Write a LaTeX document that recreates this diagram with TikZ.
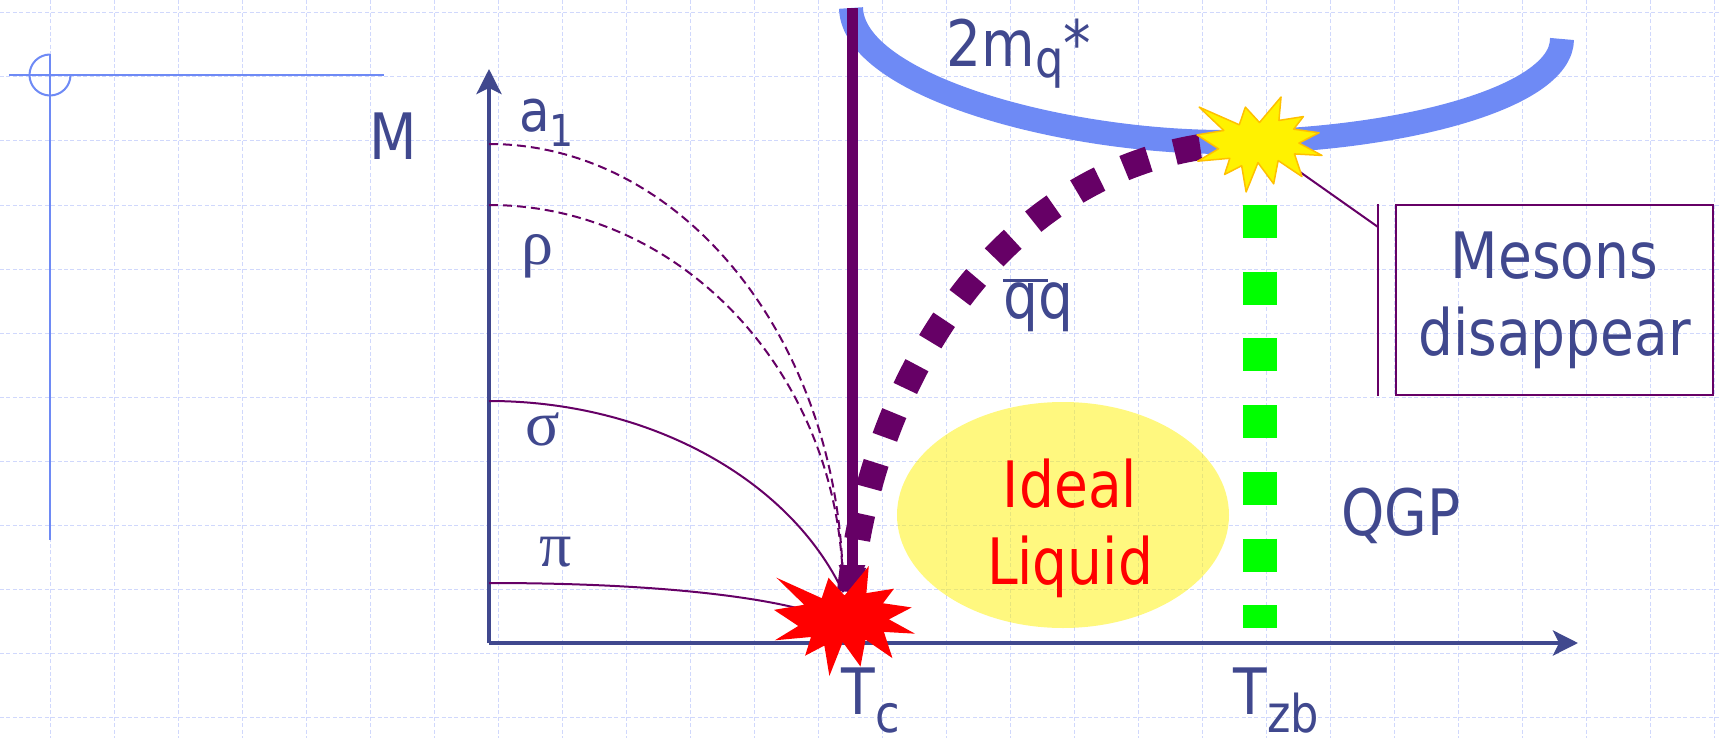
\documentclass[tikz,border=0pt]{standalone}
\usepackage{fontspec}
\setmainfont{DejaVu Sans}[FakeStretch=0.86]
\newfontfamily\greekfont{Liberation Serif}
\usepackage{tikz}
\usetikzlibrary{arrows.meta}
\definecolor{inkblue}{RGB}{64,72,142}
\definecolor{plum}{RGB}{102,0,102}
\definecolor{bandblue}{RGB}{110,138,245}
\definecolor{gridblue}{RGB}{208,216,252}
\definecolor{sealgold}{RGB}{255,192,0}
\definecolor{dotgreen}{RGB}{0,255,0}
\newcommand{\subtxt}[2]{\raisebox{-#1}{\fontsize{26pt}{26pt}\selectfont #2}}
\tikzset{
  lbl/.style={text=inkblue, inner sep=0pt, font=\fontsize{32pt}{38.5pt}\selectfont},
  greek/.style={lbl, font=\greekfont\fontsize{32pt}{38.5pt}\selectfont},
  gridline/.style={gridblue, line width=0.5pt, dash pattern=on 2pt off 1.2pt},
  guide/.style={bandblue, line width=1pt},
  axis/.style={inkblue, line width=2pt, -{Stealth[length=12.5pt, width=12.5pt, inset=3pt]}},
  meson/.style={plum, line width=1pt},
  mesondash/.style={meson, dash pattern=on 4.5pt off 2.5pt},
  seal/.pic={
    \path[pic actions] (50,26.85) -- (67.23,0) -- (65.53,24.65) -- (85.09,20.63)
      -- (77.32,33.87) -- (97.67,37.67) -- (81.51,48.50) -- (100,61.53)
      -- (77.95,59.92) -- (84.00,83.77) -- (64.91,66.93) -- (61.33,91.38)
      -- (48.76,69.14) -- (39.28,100) -- (35.72,72.35) -- (22.05,81.56)
      -- (26.24,64.52) -- (0.63,67.53) -- (17.23,54.51) -- (0,39.88)
      -- (21.42,35.26) -- (1.71,10.63) -- (33.85,29.26) -- (38.67,10.63) -- cycle;
  },
}
\begin{document}
\begin{tikzpicture}[x=0.5pt, y=-0.5pt]
  \useasboundingbox (0,0) rectangle (1719,738);
  \foreach \gx in {50,114,...,1714} \draw[gridline] (\gx,0) -- (\gx,738);
  \foreach \gy in {13,77,...,717} \draw[gridline] (0,\gy) -- (1719,\gy);
  % guide in the corner
  \draw[guide] (9,75) -- (384,75);
  \draw[guide] (50,54.5) -- (50,540);
  \draw[guide] (50,54.5) arc[start angle=-90, end angle=-360, radius=20.5];
  % quark mass band
  \draw[bandblue, line width=12pt] (851,8) .. controls (853,85) and (1060,142) .. (1225,142)
    .. controls (1390,142) and (1562,100) .. (1562,39);
  \coordinate (origin) at (489,643);
  \draw[axis] (origin) -- (489,69);
  \draw[axis] (origin) -- (1578,643);
  % meson masses
  \draw[mesondash] (489,144) arc[start angle=-90, end angle=0, x radius=354, y radius=448];
  \draw[mesondash] (489,205) arc[start angle=-90, end angle=0, x radius=354, y radius=387];
  \draw[meson] (489,401) .. controls (650,401) and (790,480) .. (843,592);
  \draw[meson] (489,583) .. controls (650,583) and (760,596) .. (815,613);
  \draw[plum, line width=13pt, dash pattern=on 13pt off 13.5pt] (850,592) .. controls (870,380) and (1000,170) .. (1215,145);
  \draw[dotgreen, line width=17pt, dash pattern=on 16.5pt off 16.85pt] (1260,205) -- (1260,628);
  \fill[yellow, fill opacity=0.5] (1063,515) ellipse[x radius=166, y radius=113];
  \node[lbl, anchor=base] (mlab) at (393,160) {M};
  \node[lbl, anchor=base west, font=\fontsize{29pt}{34pt}\selectfont] (alab) at (519,132) {a\raisebox{-7.5pt}{\fontsize{22pt}{22pt}\selectfont 1}};
  \node[greek, anchor=base] (rholab) at (537,264) {ρ};
  \node[greek, anchor=base] (sigmalab) at (543,445) {σ};
  \node[greek, anchor=base] (pilab) at (556,566) {π};
  \node[lbl, anchor=base west] (mqlab) at (946,67) {2m\subtxt{5.5pt}{q}*};
  \node[lbl, anchor=base west] (qqlab) at (1003,318) {\rlap{\rule[18pt]{22.5pt}{1.5pt}}qq};
  \node[lbl, text=red, align=center] (liquid) at (1070,528) {Ideal\\Liquid};
  \node[lbl, anchor=base] (qgp) at (1401,535) {QGP};
  \node[lbl, anchor=base west] (tc) at (841,714) {T\subtxt{9pt}{c}};
  \node[lbl, anchor=base west] (tzb) at (1233,714) {T\subtxt{9pt}{zb}};
  \draw[plum, line width=5.5pt, -{Triangle[length=16pt, width=12pt]}] (852,8) -- (852,597);
  \pic[fill=red, xscale=1.41, yscale=1.10] (sealtc) at (774,566) {seal};
  \node[lbl, draw=plum, line width=1pt, align=center, minimum width=158.5pt, minimum height=95pt] (mesons) at (1554.5,300) {Mesons\\disappear};
  \coordinate (lead) at (1300,172);
  \draw[plum, line width=1pt] ([xshift=-8.5pt]mesons.north west) -- ([xshift=-8.5pt]mesons.south west);
  \draw[plum, line width=1pt] (lead) -- ([xshift=-8.5pt, yshift=-11.5pt]mesons.north west);
  \pic[fill=yellow, draw=sealgold, line width=0.75pt, line join=round, xscale=1.25, yscale=0.95] (sealzb) at (1197,97) {seal};
\end{tikzpicture}
\end{document}
